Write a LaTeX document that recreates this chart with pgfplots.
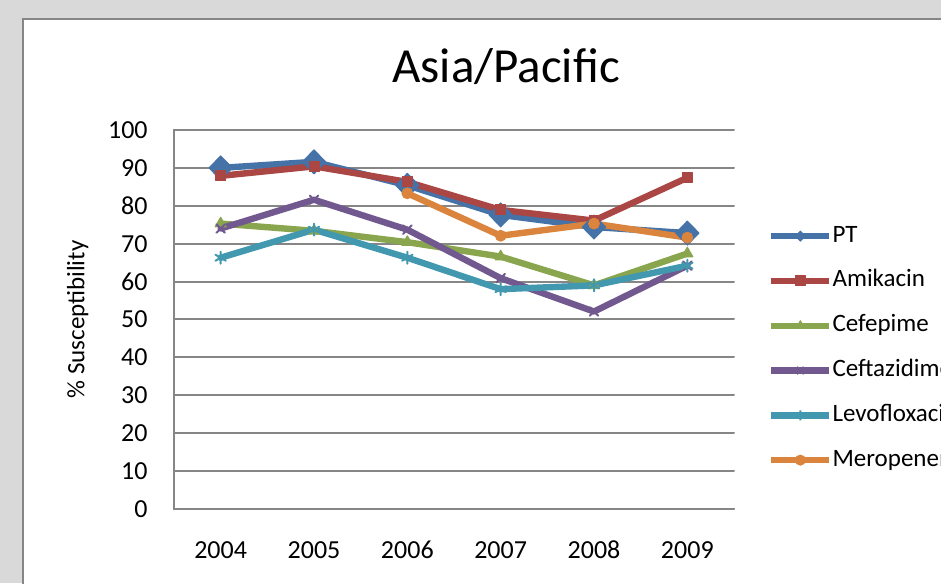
\documentclass[border=0pt]{standalone}
\usepackage{pgfplots}
\pgfplotsset{compat=1.18}
\usepackage{fontspec}
\setmainfont{Carlito}

\definecolor{bggray}{HTML}{D9D9D9}
\definecolor{framegray}{HTML}{868686}
\definecolor{gridgray}{HTML}{868686}
\definecolor{cPT}{HTML}{4572A7}
\definecolor{cAmi}{HTML}{AA4643}
\definecolor{cCefe}{HTML}{89A54E}
\definecolor{cCeft}{HTML}{71588F}
\definecolor{cLevo}{HTML}{4198AF}
\definecolor{cMero}{HTML}{DB843D}

\begin{document}
\begin{tikzpicture}[x=1pt,y=1pt]
\useasboundingbox (0,0) rectangle (470.5,291.5);
\fill[bggray] (0,0) rectangle (470.5,291.5);
\filldraw[fill=white, draw=framegray, line width=0.75pt] (11.5,-10) rectangle (490,282);
\node[anchor=base, font=\fontsize{24.5}{29}\selectfont] at (253,250) {Asia/Pacific};
\begin{axis}[
  at={(87pt,37pt)}, anchor=south west,
  scale only axis, width=280pt, height=189.5pt,
  xmin=-0.5, xmax=5.5, ymin=0, ymax=100,
  xtick={0,1,2,3,4,5},
  xticklabels={2004,2005,2006,2007,2008,2009},
  ytick={0,10,...,100},
  axis lines*=left,
  axis line style={-, draw=gridgray, line width=1pt},
  ymajorgrids, major grid style={draw=gridgray, line width=1pt},
  major tick length=0pt,
  clip=false,
  /pgf/number format/assume math mode=true,
  tick label style={font=\fontsize{13}{15}\selectfont, inner sep=0pt, text=black},
  yticklabel style={xshift=-13pt},
  xticklabel style={anchor=base, yshift=-24.75pt},
  ylabel={\% Susceptibility},
  ylabel style={at={(axis description cs:-0.172,0.5)}, anchor=center, font=\fontsize{12.5}{15}\selectfont},
  line join=round, line cap=round,
  legend image code/.code={\draw[mark repeat=2,mark phase=2] plot coordinates {(0pt,0pt) (14.5pt,0pt) (29pt,0pt)};},
  legend image post style={mark size=2.5pt},
  legend cell align=left,
  legend style={draw=none, fill=none, at={(1.061,0.749)}, anchor=north west,
    inner sep=0pt, outer sep=0pt, row sep=11.4pt,
    font=\fontsize{12.5}{15}\selectfont,
    nodes={inner sep=0pt, text height=8.5pt, text depth=2.5pt},
    /tikz/every odd column/.append style={column sep=0pt}},
]
\addplot[color=cPT, line width=3.2pt, mark=diamond*, mark size=6pt,
  mark options={xscale=1.3, line width=0.5pt, fill=cPT}]
  coordinates {(0,90.0) (1,91.6) (2,85.4) (3,77.6) (4,74.4) (5,72.8)};
\addlegendentry{PT}
\addplot[color=cAmi, line width=3.2pt, mark=square*, mark size=2.5pt,
  mark options={line width=0.5pt, fill=cAmi}]
  coordinates {(0,87.9) (1,90.4) (2,86.3) (3,78.9) (4,76.1) (5,87.4)};
\addlegendentry{Amikacin}
\addplot[color=cCefe, line width=3.2pt, mark=triangle*, mark size=3.2pt,
  mark options={line width=0.5pt, fill=cCefe}]
  coordinates {(0,75.3) (1,73.4) (2,70.4) (3,66.6) (4,59.0) (5,67.4)};
\addlegendentry{Cefepime}
\addplot[color=cCeft, line width=3.2pt, mark=x, mark size=3pt,
  mark options={line width=1pt}]
  coordinates {(0,74.0) (1,81.6) (2,73.7) (3,60.9) (4,52.1) (5,64.2)};
\addlegendentry{Ceftazidime}
\addplot[color=cLevo, line width=3.2pt, mark=asterisk, mark size=3pt,
  mark options={line width=1pt}]
  coordinates {(0,66.3) (1,73.7) (2,66.3) (3,58.0) (4,59.0) (5,64.2)};
\addlegendentry{Levofloxacin}
\addplot[color=cMero, line width=3.2pt, mark=*, mark size=2.7pt,
  mark options={line width=0.5pt, fill=cMero}]
  coordinates {(2,83.3) (3,72.1) (4,75.3) (5,71.6)};
\addlegendentry{Meropenem}
\end{axis}
\end{tikzpicture}
\end{document}
